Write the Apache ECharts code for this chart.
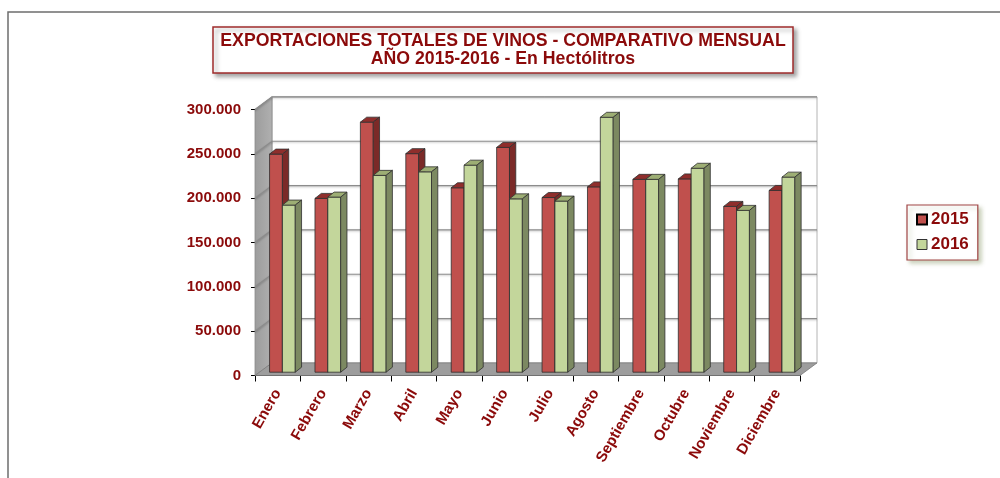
<!DOCTYPE html>
<html>
<head>
<meta charset="utf-8">
<script src="https://cdn.jsdelivr.net/npm/echarts@6/dist/echarts.min.js"></script>
<style>
html,body{margin:0;padding:0;background:#fff;}
#chart{width:1000px;height:478px;}
</style>
</head>
<body>
<div id="chart"></div>
<script>
const categories = ['Enero','Febrero','Marzo','Abril','Mayo','Junio','Julio','Agosto','Septiembre','Octubre','Noviembre','Diciembre'];
const values2015 = [246000,196000,282000,246500,208000,253500,197000,209000,217500,218000,187000,205000];
const values2016 = [188500,197500,222000,226000,233500,195500,193000,287500,217500,230000,182500,220000];
const yTicks = [0,50000,100000,150000,200000,250000,300000];
const titleLines = ['EXPORTACIONES TOTALES DE VINOS - COMPARATIVO MENSUAL','AÑO 2015-2016 - En Hectólitros'];
const seriesNames = ['2015','2016'];

const TXT = '#8B0A0A';
const FONT = '"Liberation Sans", Arial, sans-serif';
// depth of the walls (px) and of the bars
const WDX = 17, WDY = -12.6;
const BX = 4.7, BY = -3.3;
const DX = 6.3, DY = -5;

const chart = echarts.init(document.getElementById('chart'), null, {renderer:'canvas'});

function fmt(v){
  if (v === 0) return '0';
  return String(v).replace(/\B(?=(\d{3})+(?!\d))/g, '.');
}

function wallsItem(params, api){
  const cs = params.coordSys;
  const x0 = cs.x, x1 = cs.x + cs.width;
  const yb = api.coord([0, 0])[1];
  const yt = api.coord([0, yTicks[yTicks.length-1]])[1];
  const ch = [];
  ch.push({type:'rect', shape:{x:x0+WDX, y:yt+WDY, width:x1-x0, height:yb-yt},
    style:{fill:'#ffffff', stroke:'#b4b4b4', lineWidth:1}});
  ch.push({type:'polygon', shape:{points:[[x0,yt],[x0+WDX,yt+WDY],[x0+WDX,yb+WDY],[x0,yb]]},
    style:{fill:new echarts.graphic.LinearGradient(0,0,1,0,[{offset:0,color:'#9c9c9c'},{offset:1,color:'#b0b0b0'}]), stroke:'#8a8a8a', lineWidth:0.8}});
  ch.push({type:'polygon', shape:{points:[[x0,yb],[x0+WDX,yb+WDY],[x1+WDX,yb+WDY],[x1,yb]]},
    style:{fill:'#9d9d9d', stroke:'#7a7a7a', lineWidth:0.8}});
  yTicks.forEach(function(t){
    if (t === 0) return;
    const y = api.coord([0, t])[1];
    ch.push({type:'polyline', shape:{points:[[x0,y],[x0+WDX,y+WDY],[x1+WDX,y+WDY]]},
      style:{stroke:'#8c8c8c', lineWidth:1.2, fill:null, shadowColor:'rgba(0,0,0,0.25)', shadowBlur:2, shadowOffsetY:1}});
  });
  return {type:'group', children:ch};
}

function barRenderer(idx, front, top, side){
  return function(params, api){
    const i = api.value(0), v = api.value(1);
    const p0 = api.coord([i, 0]);
    const p1 = api.coord([i, v]);
    const band = api.size([1, 0])[0];
    const w = band * 0.283;
    const cx = p0[0] + BX;
    const yb = p0[1] + BY;
    const yt = p1[1] + BY;
    const xl = idx === 0 ? cx - w : cx;
    const xr = xl + w;
    const st = {stroke:'#2e2e2e', lineWidth:0.8, lineJoin:'round'};
    return {type:'group', children:[
      {type:'rect', shape:{x:xl, y:yt, width:w, height:yb-yt}, style:Object.assign({fill:front}, st)},
      {type:'polygon', shape:{points:[[xl,yt],[xr,yt],[xr+DX,yt+DY],[xl+DX,yt+DY]]}, style:Object.assign({fill:top}, st)},
      {type:'polygon', shape:{points:[[xr,yt],[xr+DX,yt+DY],[xr+DX,yb+DY],[xr,yb]]}, style:Object.assign({fill:side}, st)}
    ]};
  };
}

const option = {
  animation:false,
  backgroundColor:'#ffffff',
  title:{
    text: titleLines.join('\n'),
    left:495, top:27,
    textAlign:'center',
    padding:[5,8,5,8],
    backgroundColor:'#ffffff',
    borderColor:'#9E2B2B', borderWidth:1.5,
    shadowColor:'rgba(0,0,0,0.35)', shadowBlur:4, shadowOffsetX:3, shadowOffsetY:3,
    textStyle:{fontFamily:FONT, fontWeight:'bold', fontSize:17.7, lineHeight:18, color:TXT}
  },
  legend:{
    orient:'vertical', left:907, top:205,
    padding:[5,9,6,9], itemGap:6, itemWidth:10, itemHeight:10,
    backgroundColor:'#ffffff', borderColor:'#A04444', borderWidth:1.2,
    shadowColor:'rgba(110,130,70,0.35)', shadowBlur:4, shadowOffsetX:3, shadowOffsetY:3,
    icon:'rect',
    textStyle:{fontFamily:FONT, fontWeight:'bold', fontSize:17, lineHeight:19, color:TXT, padding:[0,0,0,-1]},
    data:[
      {name:seriesNames[0], itemStyle:{color:'#C0504D', borderColor:'#000000', borderWidth:2}},
      {name:seriesNames[1], itemStyle:{color:'#C3D69B', borderColor:'#333333', borderWidth:1}}
    ]
  },
  graphic:[
    {type:'rect', z:-10, silent:true, shape:{x:8, y:12, width:1100, height:600},
     style:{fill:null, stroke:'#6e6e6e', lineWidth:1.5}}
  ],
  grid:{left:255, top:109.5, width:545, height:266, containLabel:false},
  xAxis:{
    type:'category', data:categories, boundaryGap:true,
    axisLine:{show:true, lineStyle:{color:'#000', width:1}},
    axisTick:{show:true, length:6, lineStyle:{color:'#000'}},
    axisLabel:{rotate:60, margin:15, interval:0, fontFamily:FONT, fontWeight:'bold', fontSize:15, color:TXT},
    splitLine:{show:false}
  },
  yAxis:{
    type:'value', min:0, max:300000, interval:50000,
    axisLine:{show:true, lineStyle:{color:'#000', width:1}},
    axisTick:{show:true, length:4, lineStyle:{color:'#000'}},
    axisLabel:{margin:14, formatter:fmt, fontFamily:FONT, fontWeight:'bold', fontSize:15, color:TXT},
    splitLine:{show:false}
  },
  series:[
    {type:'custom', name:'walls', silent:true, z:1, renderItem:wallsItem, data:[[0,0]], encode:{x:0,y:1}, clip:false},
    {type:'custom', name:seriesNames[0], z:2, renderItem:barRenderer(0,'#C0504D','#8F2E2C','#7B2A28'),
     itemStyle:{color:'#C0504D'}, data:values2015.map(function(v,i){return [i,v];}), encode:{x:0,y:1}, clip:false},
    {type:'custom', name:seriesNames[1], z:3, renderItem:barRenderer(1,'#C3D69B','#9DAE74','#7C8961'),
     itemStyle:{color:'#C3D69B'}, data:values2016.map(function(v,i){return [i,v];}), encode:{x:0,y:1}, clip:false}
  ]
};
chart.setOption(option);
</script>
</body>
</html>
